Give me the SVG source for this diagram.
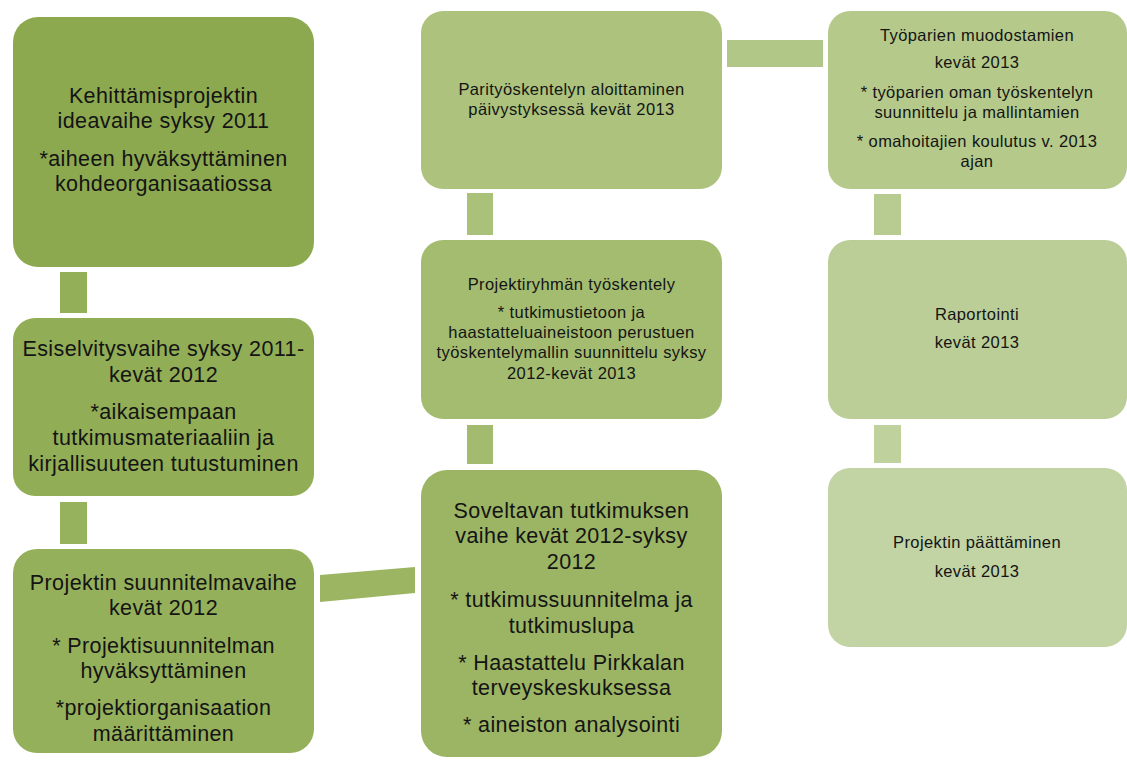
<svg xmlns="http://www.w3.org/2000/svg" width="1127" height="760" viewBox="0 0 1127 760">
<style>
.big{font-family:"Liberation Sans",Arial,sans-serif;font-size:21.5px;letter-spacing:0.4px;fill:#141414;text-anchor:middle}
.sm{font-family:"Liberation Sans",Arial,sans-serif;font-size:16.5px;letter-spacing:0.4px;fill:#141414;text-anchor:middle}
</style>
<rect width="1127" height="760" fill="#ffffff"/>
<g id="connectors">
<rect x="60" y="272" width="27" height="41" fill="#93AF57"/>
<rect x="60" y="502" width="27" height="42" fill="#97B25C"/>
<polygon points="320,575 415,567 415,593 320,602" fill="#9CB563"/>
<rect x="467" y="425" width="26" height="39" fill="#A3BB6E"/>
<rect x="467" y="193" width="26" height="42" fill="#AAC17A"/>
<rect x="727" y="40" width="96" height="27" fill="#B1C787"/>
<rect x="874" y="194" width="27" height="41" fill="#B8CC92"/>
<rect x="874" y="425" width="27" height="38" fill="#BFD19D"/>
</g>
<g id="node1">
<rect x="13" y="17" width="301" height="250" rx="25" fill="#8CA94F"/>
<text class="big" x="163.5" y="103">Kehittämisprojektin</text>
<text class="big" x="163.5" y="128">ideavaihe syksy 2011</text>
<text class="big" x="163.5" y="166">*aiheen hyväksyttäminen</text>
<text class="big" x="163.5" y="191">kohdeorganisaatiossa</text>
</g>
<g id="node2">
<rect x="13" y="318" width="301" height="178" rx="22" fill="#91AD55"/>
<text class="big" x="163.5" y="356">Esiselvitysvaihe syksy 2011-</text>
<text class="big" x="163.5" y="382">kevät 2012</text>
<text class="big" x="163.5" y="419">*aikaisempaan</text>
<text class="big" x="163.5" y="445">tutkimusmateriaaliin ja</text>
<text class="big" x="163.5" y="471">kirjallisuuteen tutustuminen</text>
</g>
<g id="node3">
<rect x="13" y="549" width="301" height="204" rx="24" fill="#95B05B"/>
<text class="big" x="163.5" y="590">Projektin suunnitelmavaihe</text>
<text class="big" x="163.5" y="615">kevät 2012</text>
<text class="big" x="163.5" y="653">* Projektisuunnitelman</text>
<text class="big" x="163.5" y="678">hyväksyttäminen</text>
<text class="big" x="163.5" y="715">*projektiorganisaation</text>
<text class="big" x="163.5" y="741">määrittäminen</text>
</g>
<g id="node4">
<rect x="421" y="470" width="301" height="287" rx="26" fill="#9CB564"/>
<text class="big" x="571.5" y="518">Soveltavan tutkimuksen</text>
<text class="big" x="571.5" y="543">vaihe kevät 2012-syksy</text>
<text class="big" x="571.5" y="569">2012</text>
<text class="big" x="571.5" y="607">* tutkimussuunnitelma ja</text>
<text class="big" x="571.5" y="633">tutkimuslupa</text>
<text class="big" x="571.5" y="670">* Haastattelu Pirkkalan</text>
<text class="big" x="571.5" y="695">terveyskeskuksessa</text>
<text class="big" x="571.5" y="732">* aineiston analysointi</text>
</g>
<g id="node5">
<rect x="421" y="240" width="301" height="179" rx="22" fill="#A4BC70"/>
<text class="sm" x="571.5" y="290">Projektiryhmän työskentely</text>
<text class="sm" x="571.5" y="318">* tutkimustietoon ja</text>
<text class="sm" x="571.5" y="338">haastatteluaineistoon perustuen</text>
<text class="sm" x="571.5" y="358">työskentelymallin suunnittelu syksy</text>
<text class="sm" x="571.5" y="379">2012-kevät 2013</text>
</g>
<g id="node6">
<rect x="421" y="11" width="301" height="178" rx="22" fill="#ACC27D"/>
<text class="sm" x="571.5" y="95">Parityöskentelyn aloittaminen</text>
<text class="sm" x="571.5" y="115">päivystyksessä kevät 2013</text>
</g>
<g id="node7">
<rect x="828" y="11" width="299" height="178" rx="22" fill="#B4C98A"/>
<text class="sm" x="977" y="41">Työparien muodostamien</text>
<text class="sm" x="977" y="68">kevät 2013</text>
<text class="sm" x="977" y="98">* työparien oman  työskentelyn</text>
<text class="sm" x="977" y="118">suunnittelu ja mallintamien</text>
<text class="sm" x="977" y="147">* omahoitajien koulutus  v. 2013</text>
<text class="sm" x="977" y="167">ajan</text>
</g>
<g id="node8">
<rect x="828" y="240" width="299" height="179" rx="22" fill="#BBCE97"/>
<text class="sm" x="977" y="320">Raportointi</text>
<text class="sm" x="977" y="348">kevät 2013</text>
</g>
<g id="node9">
<rect x="828" y="468" width="299" height="179" rx="22" fill="#C2D3A4"/>
<text class="sm" x="977" y="548">Projektin päättäminen</text>
<text class="sm" x="977" y="577">kevät 2013</text>
</g>
</svg>
